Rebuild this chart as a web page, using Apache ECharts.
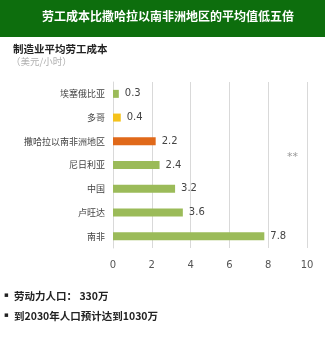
<!DOCTYPE html>
<html><head><meta charset="utf-8">
<script src="https://cdn.jsdelivr.net/npm/echarts@6/dist/echarts.min.js"></script>
<style>html,body{margin:0;padding:0;background:#fff}#c{width:325px;height:338px}</style>
</head><body><div id="c"></div>
<script>
const categories = ['埃塞俄比亚','多哥','撒哈拉以南非洲地区','尼日利亚','中国','卢旺达','南非'];
const values = [0.3, 0.4, 2.2, 2.4, 3.2, 3.6, 7.8];
const barColors = ['#9bbb59','#f5c21b','#e0691a','#9bbb59','#9bbb59','#9bbb59','#9bbb59'];
const xTicks = [0, 2, 4, 6, 8, 10];
const title = '劳工成本比撒哈拉以南非洲地区的平均值低五倍';
const subtitle = '制造业平均劳工成本';
const unit = '（美元/小时）';
const bullets = ['劳动力人口： 330万', '到2030年人口预计达到1030万'];

const chart = echarts.init(document.getElementById('c'), null, {renderer:'canvas'});
chart.setOption({
  animation:false,
  backgroundColor:'#fff',
  graphic:[
    {type:'rect', shape:{x:0,y:0,width:325,height:37}, style:{fill:'#0d6e0d'}},
    {type:'text', x:168, y:16, style:{text:title, fill:'#fff', font:'bold 12px "Noto Sans CJK SC"', textAlign:'center', textVerticalAlign:'middle'}},
    {type:'text', left:13, top:44, style:{text:subtitle, fill:'#222', font:'bold 10.5px "Noto Sans CJK SC"'}},
    {type:'text', left:11, top:57, style:{text:unit, fill:'#b0b0b0', font:'9.5px "Noto Sans CJK SC"'}},
    {type:'text', left:287, top:152, style:{text:'**', fill:'#999', font:'11px "DejaVu Sans"'}},
    {type:'text', left:4, top:292, style:{text:'▪', fill:'#222', font:'7px "DejaVu Sans"'}},
    {type:'text', left:14, top:291, style:{text:bullets[0], fill:'#222', font:'bold 10.5px "Noto Sans CJK SC"'}},
    {type:'text', left:4, top:312, style:{text:'▪', fill:'#222', font:'7px "DejaVu Sans"'}},
    {type:'text', left:14, top:311, style:{text:bullets[1], fill:'#222', font:'bold 10.5px "Noto Sans CJK SC"'}}
  ],
  grid:{left:113, right:18, top:82, bottom:90, containLabel:false},
  xAxis:{type:'value', min:xTicks[0], max:xTicks[xTicks.length-1], interval:2,
    axisLine:{show:false}, axisTick:{show:false},
    axisLabel:{color:'#555', fontSize:10, margin:12, fontFamily:'DejaVu Sans'},
    splitLine:{lineStyle:{color:'#d9d9d9', width:1}}},
  yAxis:{type:'category', data:categories, inverse:true,
    axisLine:{show:true, lineStyle:{color:'#d9d9d9'}}, axisTick:{show:false},
    axisLabel:{color:'#444', fontSize:9, margin:8, fontFamily:'Noto Sans CJK SC'}},
  series:[{type:'bar', data:values.map((v,i)=>({value:v, itemStyle:{color:barColors[i]}})),
    barWidth:8,
    label:{show:true, position:'right', color:'#444', fontSize:10, distance:6, fontFamily:'DejaVu Sans'}}]
});
</script></body></html>
